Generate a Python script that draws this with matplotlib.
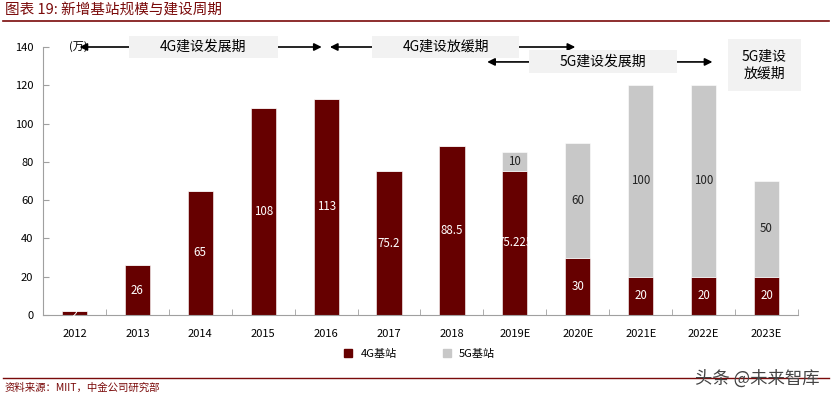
import numpy as np
import matplotlib.pyplot as plt
from matplotlib.patches import Rectangle
from matplotlib.lines import Line2D

plt.rcParams['font.family'] = ['Noto Sans CJK SC', 'DejaVu Sans']

years = ['2012', '2013', '2014', '2015', '2016', '2017', '2018',
         '2019E', '2020E', '2021E', '2022E', '2023E']
bs_4g = [2, 26, 65, 108, 113, 75.2, 88.5, 75.225, 30, 20, 20, 20]
bs_5g = [0, 0, 0, 0, 0, 0, 0, 10, 60, 100, 100, 50]
labels_4g = ['2', '26', '65', '108', '113', '75.2', '88.5', '75.225', '30', '20', '20', '20']
labels_5g = ['', '', '', '', '', '', '', '10', '60', '100', '100', '50']

c4 = '#660000'
c5 = '#c8c8c8'
red = '#7a0a0a'

fig = plt.figure(figsize=(8.32, 3.99), dpi=100)
ax = fig.add_axes([43 / 832, 1 - 315 / 399, 755 / 832, 268 / 399])

x = np.arange(len(years))
ax.bar(x, bs_4g, width=0.4, color=c4, edgecolor='white', linewidth=0.4, label='4G基站', zorder=2)
ax.bar(x, bs_5g, width=0.4, bottom=bs_4g, color=c5, edgecolor='white', linewidth=0.4,
       label='5G基站', zorder=2)

for i in range(len(years)):
    ax.text(x[i], bs_4g[i] / 2, labels_4g[i], ha='center', va='center', color='white',
            fontsize=8.3, zorder=3)
    if labels_5g[i]:
        ax.text(x[i], bs_4g[i] + bs_5g[i] / 2, labels_5g[i], ha='center', va='center',
                color='#222222', fontsize=8.3, zorder=3)

ax.set_xlim(-0.5, len(years) - 0.5)
ax.set_ylim(0, 140)
ax.set_yticks(np.arange(0, 141, 20))
ax.set_xticks(x)
ax.set_xticklabels(years)
ax.set_xticks(np.arange(-0.5, len(years), 1), minor=True)
ax.tick_params(axis='x', which='major', length=0, pad=10, labelsize=8)
ax.tick_params(axis='x', which='minor', direction='in', length=4, color='#a0a0a0')
ax.tick_params(axis='y', direction='in', length=4, color='#a0a0a0', labelsize=8, pad=7)
for s in ['top', 'right']:
    ax.spines[s].set_visible(False)
for s in ['left', 'bottom']:
    ax.spines[s].set_color('#a0a0a0')

ax.text(-0.09, 140, '(万)', ha='left', va='center', fontsize=8, clip_on=False)

# period arrows and boxes (data coords)
def period(x0, x1, y, cx, w, h, text, fs=10):
    ax.annotate('', xy=(x1, y), xytext=(x0, y), annotation_clip=False,
                arrowprops=dict(arrowstyle='<|-|>', color='black', lw=1.2,
                                shrinkA=0, shrinkB=0, mutation_scale=11))
    ax.add_patch(Rectangle((cx - w / 2, y - h / 2), w, h, facecolor='#f2f2f2',
                           edgecolor='none', clip_on=False, zorder=4))
    ax.text(cx, y, text, ha='center', va='center', fontsize=fs, zorder=5, clip_on=False)

period(0.08, 3.93, 140, 2.05, 2.36, 12, '4G建设发展期')
period(4.06, 7.96, 140, 5.9, 2.34, 12, '4G建设放缓期')
period(6.56, 10.14, 132.2, 8.4, 2.34, 12, '5G建设发展期')
ax.add_patch(Rectangle((10.39, 117), 1.15, 27, facecolor='#f2f2f2', edgecolor='none',
                       clip_on=False, zorder=4))
ax.text(10.965, 130.5, '5G建设\n放缓期', ha='center', va='center', fontsize=10,
        linespacing=1.3, zorder=5, clip_on=False)

handles = [Line2D([], [], marker='s', color=c4, linestyle='none', markersize=6),
           Line2D([], [], marker='s', color=c5, linestyle='none', markersize=6)]
fig.legend(handles, ['4G基站', '5G基站'], loc='center', bbox_to_anchor=(0.5, 1 - 354 / 399),
           ncol=2, frameon=False, fontsize=8, handletextpad=0.1, columnspacing=3.5)

# header / footer
fig.text(5 / 832, 1 - 10 / 399, '图表 19: 新增基站规模与建设周期', color=red, fontsize=10.5,
         style='italic', ha='left', va='center')
fig.add_artist(Line2D([3 / 832, 829 / 832], [1 - 21 / 399] * 2, color=red, lw=1.2))
fig.add_artist(Line2D([3 / 832, 829 / 832], [1 - 378 / 399] * 2, color=red, lw=1.0))
fig.text(5 / 832, 1 - 388 / 399, '资料来源：MIIT，中金公司研究部', color=red, fontsize=7.5,
         style='italic', ha='left', va='center')
fig.text(820 / 832, 1 - 379 / 399, '头条 @未来智库', color='#444444', fontsize=12.5,
         ha='right', va='center')

fig.savefig('out.png', dpi=100)
